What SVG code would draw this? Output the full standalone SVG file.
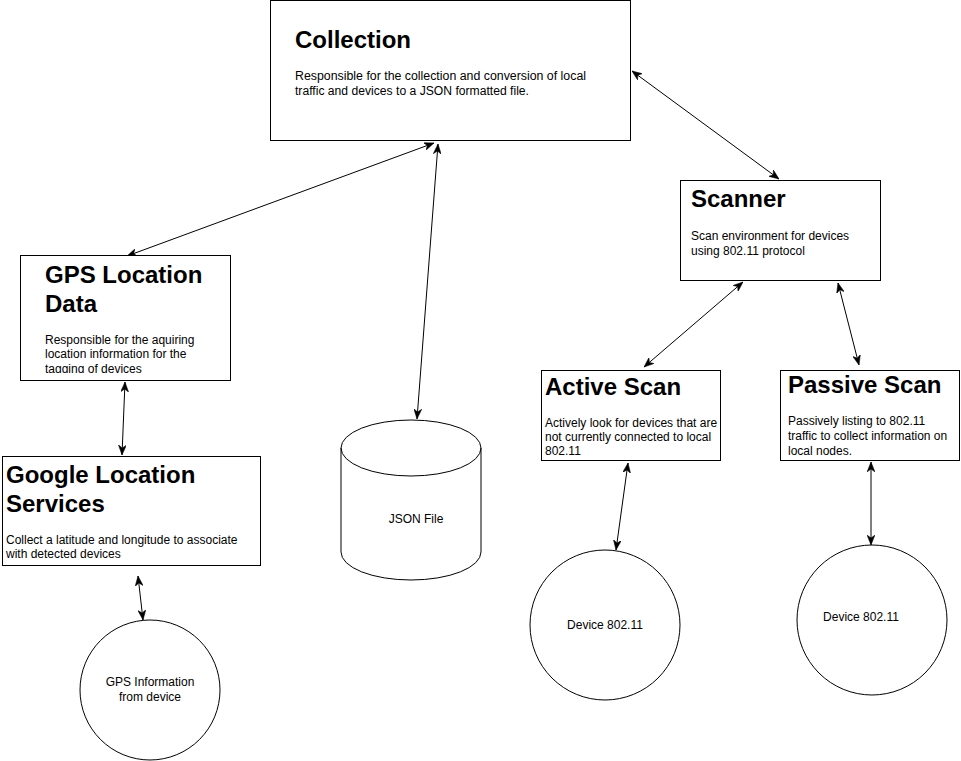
<svg xmlns="http://www.w3.org/2000/svg" width="961" height="761" viewBox="0 0 961 761">
<style>
.box{fill:#fff;stroke:#000;stroke-width:1}
.t{font-family:"Liberation Sans",Arial,sans-serif;font-size:24px;font-weight:bold;fill:#000}
.b{font-family:"Liberation Sans",Arial,sans-serif;font-size:12px;fill:#000}
.c{font-family:"Liberation Sans",Arial,sans-serif;font-size:12px;fill:#000;text-anchor:middle}
.e{fill:none;stroke:#000;stroke-width:1;marker-start:url(#ah);marker-end:url(#ah)}
</style>
<defs>
<marker id="ah" viewBox="0 0 10 8" markerWidth="10" markerHeight="8" refX="10" refY="4" orient="auto-start-reverse" markerUnits="userSpaceOnUse">
<path d="M0,0 L10,4 L0,8 L3,4 Z" fill="#000" stroke="#000" stroke-width="0.5"/>
</marker>
<clipPath id="gpsclip"><rect x="20" y="255" width="211" height="118"/></clipPath>
</defs>
<rect width="961" height="761" fill="#fff"/>
<g id="connectors">
<line class="e" x1="632" y1="71" x2="779" y2="179"/>
<line class="e" x1="434" y1="143" x2="127" y2="256"/>
<line class="e" x1="438" y1="144" x2="417" y2="419"/>
<line class="e" x1="125" y1="382" x2="122" y2="455"/>
<line class="e" x1="138" y1="576" x2="143" y2="620"/>
<line class="e" x1="743" y1="282" x2="644" y2="367"/>
<line class="e" x1="838" y1="283" x2="859" y2="365"/>
<line class="e" x1="628" y1="463" x2="616" y2="550"/>
<line class="e" x1="871" y1="462" x2="871" y2="545"/>
</g>
<g id="collection">
<rect class="box" x="270.5" y="0.5" width="360" height="140"/>
<text class="t" x="295" y="48">Collection</text>
<text class="b" x="295" y="80" textLength="291" lengthAdjust="spacingAndGlyphs">Responsible for the collection and conversion of local</text>
<text class="b" x="295" y="95" textLength="234" lengthAdjust="spacingAndGlyphs">traffic and devices to a JSON formatted file.</text>
</g>
<g id="scanner">
<rect class="box" x="680.5" y="180.5" width="200" height="100"/>
<text class="t" x="691" y="207">Scanner</text>
<text class="b" x="691" y="240">Scan environment for devices</text>
<text class="b" x="691" y="255">using 802.11 protocol</text>
</g>
<g id="gps-location-data">
<rect class="box" x="20.5" y="255.5" width="210" height="125"/>
<text class="t" x="45" y="283">GPS Location</text>
<text class="t" x="45" y="312">Data</text>
<g clip-path="url(#gpsclip)">
<text class="b" x="45" y="344">Responsible for the aquiring</text>
<text class="b" x="45" y="358">location information for the</text>
<text class="b" x="45" y="373">tagging of devices</text>
</g>
</g>
<g id="google-location-services">
<rect class="box" x="2.5" y="456.5" width="258" height="109"/>
<text class="t" x="6" y="483">Google Location</text>
<text class="t" x="6" y="512">Services</text>
<text class="b" x="6" y="544">Collect a latitude and longitude to associate</text>
<text class="b" x="6" y="558">with detected devices</text>
</g>
<g id="active-scan">
<rect class="box" x="541.5" y="370.5" width="179" height="90"/>
<text class="t" x="545" y="395">Active Scan</text>
<text class="b" x="545" y="427">Actively look for devices that are</text>
<text class="b" x="545" y="441">not currently connected to local</text>
<text class="b" x="545" y="455">802.11</text>
</g>
<g id="passive-scan">
<rect class="box" x="780.5" y="370.5" width="179" height="90"/>
<text class="t" x="788" y="393">Passive Scan</text>
<text class="b" x="788" y="425">Passively listing to 802.11</text>
<text class="b" x="788" y="440">traffic to collect information on</text>
<text class="b" x="788" y="455">local nodes.</text>
</g>
<g id="json-file">
<path class="box" d="M341,448 A70,28 0 0 1 481,448 L481,552 A70,28 0 0 1 341,552 Z"/>
<path d="M341,448 A70,28 0 0 0 481,448" fill="none" stroke="#000"/>
<text class="c" x="416" y="523">JSON File</text>
</g>
<g id="gps-information">
<circle class="box" cx="150" cy="690" r="70"/>
<text class="c" x="150" y="686">GPS Information</text>
<text class="c" x="150" y="701">from device</text>
</g>
<g id="device-active">
<circle class="box" cx="605" cy="625" r="75"/>
<text class="c" x="605" y="629">Device 802.11</text>
</g>
<g id="device-passive">
<circle class="box" cx="872" cy="620" r="75"/>
<text class="c" x="861" y="621">Device 802.11</text>
</g>
</svg>
